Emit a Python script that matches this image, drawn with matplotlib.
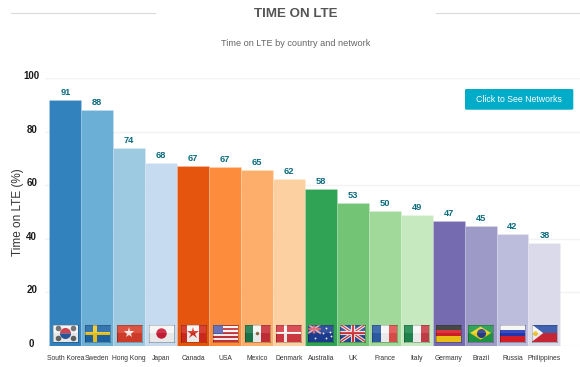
import matplotlib
matplotlib.use("Agg")
import matplotlib.pyplot as plt
import numpy as np
from matplotlib.patches import FancyBboxPatch, Rectangle, Polygon
from matplotlib.lines import Line2D
from matplotlib.transforms import ScaledTranslation

plt.rcParams['font.family'] = ['Liberation Sans', 'DejaVu Sans']

countries = ["South Korea", "Sweden", "Hong Kong", "Japan", "Canada", "USA", "Mexico", "Denmark",
             "Australia", "UK", "France", "Italy", "Germany", "Brazil", "Russia", "Philippines"]
values = [91.8, 88.1, 73.9, 68.3, 67.2, 66.9, 65.6, 62.3, 58.6, 53.5, 50.4, 48.9, 46.8, 44.9, 41.8, 38.4]
value_labels = ["91", "88", "74", "68", "67", "67", "65", "62", "58", "53", "50", "49", "47", "45", "42", "38"]
colors = ["#3182bd", "#6baed6", "#9ecae1", "#c6dbef", "#e6550d", "#fd8d3c", "#fdae6b", "#fdd0a2",
          "#31a354", "#74c476", "#a1d99b", "#c7e9c0", "#756bb1", "#9e9ac8", "#bcbddc", "#dadaeb"]
yticks = [0, 20, 40, 60, 80, 100]

W, H = 580, 367
fig = plt.figure(figsize=(W / 100, H / 100), dpi=100, facecolor="white")

# pixel geometry of the plot area
px_l, px_r, px_top, px_base = 44.5, 580.0, 78.0, 346.0
bar0, barw = 49.4, 31.94
ax = fig.add_axes([px_l / W, 1 - px_base / H, (px_r - px_l) / W, (px_base - px_top) / H])
x = np.arange(len(values))
ax.set_xlim((px_l - bar0) / barw - 0.5, (px_r - bar0) / barw - 0.5)
ax.set_ylim(0, 100)
ax.bar(x, values, width=1.0, color=colors, edgecolor=(1, 1, 1, 0.15), linewidth=0.6, zorder=2)

for s in ax.spines.values():
    s.set_visible(False)
ax.set_yticks(yticks)
ax.grid(axis="y", color="#f3f3f3", linewidth=1, zorder=0)
ax.set_axisbelow(True)
ax.tick_params(axis="y", length=0, pad=9.2, labelsize=7.0, labelcolor="#1a1a1a")
off = ScaledTranslation(0, 3 / 100, fig.dpi_scale_trans)
for t in ax.get_yticklabels():
    t.set_fontweight("bold")
    t.set_ha("center")
    t.set_transform(t.get_transform() + off)
ax.set_xticks(x, countries)
ax.tick_params(axis="x", length=0, pad=6.4, labelsize=4.85, labelcolor="#333333")
ax.set_ylabel("Time on LTE (%)", fontsize=8.5, color="#333333", va="center")
ax.yaxis.set_label_coords((18.5 - px_l) / (px_r - px_l), 0.5)

for xi, v, lab in zip(x, values, value_labels):
    ax.annotate(lab, (xi, v), xytext=(0, 2.2), textcoords="offset points", ha="center", va="bottom",
                fontsize=6.7, fontweight="bold", color="#0b6b80", zorder=4)


# ---- flags, each drawn in its own small unit box ----
def bands(a, cols, vertical=False):
    n = len(cols)
    for i, c in enumerate(cols):
        if vertical:
            a.add_patch(Rectangle((i / n, 0), 1 / n, 1, color=c, lw=0))
        else:
            a.add_patch(Rectangle((0, 1 - (i + 1) / n), 1, 1 / n, color=c, lw=0))


def f_kr(a):
    bands(a, ["#f4f4f4"])
    a.plot([.5], [.5], marker="o", ms=8, color="#c8313e", markerfacecoloralt="#2a5aa0", fillstyle="top", mew=0)
    a.plot([.2, .8, .2, .8], [.78, .78, .22, .22], ls="none", marker="o", ms=4, color="#666666", mew=0)


def f_se(a):
    bands(a, ["#1f66a8"])
    a.add_patch(Rectangle((.32, 0), .15, 1, color="#f0c820", lw=0))
    a.add_patch(Rectangle((0, .39), 1, .2, color="#f0c820", lw=0))


def f_hk(a):
    bands(a, ["#d8402c"])
    a.plot([.5], [.5], marker="*", ms=8, color="#fbe9e4", mew=0)


def f_jp(a):
    bands(a, ["#f5f5f5"])
    a.plot([.5], [.5], marker="o", ms=7.5, color="#c91f37", mew=0)


def f_ca(a):
    bands(a, ["#d52b1e", "#f7f7f7", "#f7f7f7", "#d52b1e"], vertical=True)
    a.plot([.5], [.5], marker="*", ms=9, color="#d52b1e", mew=0)


def f_us(a):
    bands(a, ["#c9353a" if i % 2 == 0 else "#f5f5f5" for i in range(9)])
    a.add_patch(Rectangle((0, .44), .42, .56, color="#5a62b0", lw=0))


def f_mx(a):
    bands(a, ["#1c7a4c", "#f5f5f5", "#c93038"], vertical=True)
    a.plot([.5], [.5], marker="o", ms=2.5, color="#8a6a3a", mew=0)


def f_dk(a):
    bands(a, ["#d63a43"])
    a.add_patch(Rectangle((.3, 0), .13, 1, color="#f7f7f7", lw=0))
    a.add_patch(Rectangle((0, .42), 1, .16, color="#f7f7f7", lw=0))


def f_au(a):
    bands(a, ["#1f3f94"])
    a.add_patch(Rectangle((0, .5), .47, .5, color="#2b4a94", lw=0))
    a.plot([0, .47], [.5, 1], color="#e8a0a8", lw=1.3)
    a.plot([0, .47], [1, .5], color="#e8a0a8", lw=1.3)
    a.plot([.235, .235], [.5, 1], color="#e8606a", lw=1.2)
    a.plot([0, .47], [.75, .75], color="#e8606a", lw=1.2)
    a.plot([.25, .72, .85, .72, .6, .9], [.22, .8, .55, .2, .5, .35], ls="none", marker="o", ms=1.3,
           color="white", mew=0)


def f_uk(a):
    bands(a, ["#2b4a94"])
    for seg in ([0, 1], [1, 0]):
        a.plot([0, 1], seg, color="#f2f2f2", lw=2.4, solid_capstyle="butt")
        a.plot([0, 1], seg, color="#d2343c", lw=.9, solid_capstyle="butt")
    a.plot([.5, .5], [0, 1], color="#f2f2f2", lw=3, solid_capstyle="butt")
    a.plot([0, 1], [.5, .5], color="#f2f2f2", lw=3, solid_capstyle="butt")
    a.plot([.5, .5], [0, 1], color="#d2343c", lw=1.6, solid_capstyle="butt")
    a.plot([0, 1], [.5, .5], color="#d2343c", lw=1.6, solid_capstyle="butt")


def f_fr(a):
    bands(a, ["#2d5ea8", "#f7f7f7", "#e0504c"], vertical=True)


def f_it(a):
    bands(a, ["#1f8a50", "#f7f7f7", "#c9404a"], vertical=True)


def f_de(a):
    bands(a, ["#333333", "#d8202a", "#f6c915"])


def f_br(a):
    bands(a, ["#1f9a48"])
    a.add_patch(Polygon([(.08, .5), (.5, .88), (.92, .5), (.5, .12)], color="#f2d51c", lw=0))
    a.plot([.5], [.5], marker="o", ms=6.5, color="#2b3f8c", mew=0)


def f_ru(a):
    bands(a, ["#f7f7f7", "#2339b8", "#e0202a"])


def f_ph(a):
    bands(a, ["#2a50a8", "#cf2a36"])
    a.add_patch(Polygon([(0, 0), (0, 1), (.45, .5)], color="#f6f6f6", lw=0))
    a.plot([.14], [.5], marker="o", ms=3.5, color="#f0c93a", mew=0)


flags = [f_kr, f_se, f_hk, f_jp, f_ca, f_us, f_mx, f_dk, f_au, f_uk, f_fr, f_it, f_de, f_br, f_ru, f_ph]
fw, fh = 25 / barw, 17.2 / 268 * 100
for xi, fn in zip(x, flags):
    a = ax.inset_axes([xi - fw / 2, 1.6, fw, fh], transform=ax.transData, zorder=5)
    a.set_xlim(0, 1)
    a.set_ylim(0, 1)
    a.set_xticks([])
    a.set_yticks([])
    for s in a.spines.values():
        s.set_edgecolor("#00000044")
        s.set_linewidth(.6)
    fn(a)
    a.add_patch(Rectangle((0, .5), 1, .5, color="white", alpha=.10, lw=0, zorder=6))
    a.add_patch(Rectangle((0, 0), 1, .5, color="black", alpha=.05, lw=0, zorder=6))

# ---- header ----
fig.text(296 / W, 1 - 14.2 / H, "TIME ON LTE", ha="center", va="center", fontsize=9.6, fontweight="bold", color="#555555")
fig.text(296 / W, 1 - 43 / H, "Time on LTE by country and network", ha="center", va="center", fontsize=6.6, color="#666666")
for x0, x1 in [(11, 155), (436, 580)]:
    fig.add_artist(Line2D([x0 / W, x1 / W], [1 - 13.4 / H] * 2, color="#dddddd", lw=0.9, transform=fig.transFigure))

# ---- button ----
fig.add_artist(FancyBboxPatch((465 / W, 1 - 109.7 / H), 108.3 / W, 20.7 / H, boxstyle="round,pad=0,rounding_size=0.003",
                              transform=fig.transFigure, fc="#00acc8", ec="none", mutation_aspect=1))
fig.text(519 / W, 1 - 99.3 / H, "Click to See Networks", ha="center", va="center", fontsize=6.35, color="white")

fig.savefig("out.png", dpi=100, facecolor="white")
